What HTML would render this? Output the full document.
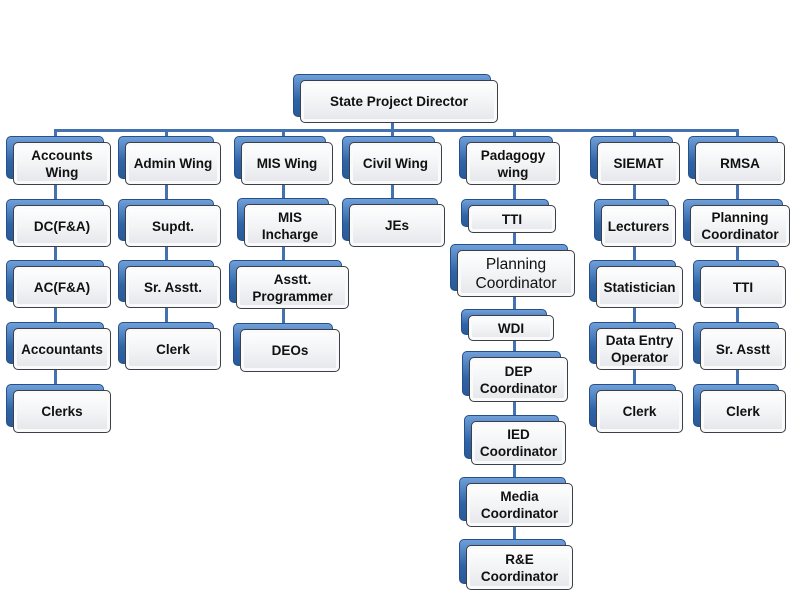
<!DOCTYPE html>
<html><head><meta charset="utf-8"><style>
body{margin:0;width:800px;height:601px;background:#fff;position:relative;overflow:hidden;font-family:"Liberation Sans",Arial,sans-serif}
.n{position:absolute}
.b{position:absolute;left:-7px;top:-6px;right:7px;bottom:6px;border-radius:5px;background:linear-gradient(#6f9fd8,#2f64a8 60%,#2a5a98);border:1px solid #25508a}
.f{position:absolute;left:0;top:0;right:0;bottom:0;border:1.5px solid #3a3f48;border-radius:5px;background:linear-gradient(#ffffff,#f3f4f6 50%,#e4e6ea);box-shadow:inset 0 0 0 3px #fafafa;display:flex;align-items:center;justify-content:center;text-align:center;font-weight:bold;font-size:13.5px;line-height:17px;color:#111}
.l{position:absolute;background:#4472b0}
</style></head><body>
<div class="l" style="left:54px;top:129px;width:684px;height:3px"></div>
<div class="l" style="left:391px;top:120px;width:3px;height:12px"></div>
<div class="l" style="left:54px;top:129px;width:3px;height:280px"></div>
<div class="l" style="left:165px;top:129px;width:3px;height:220px"></div>
<div class="l" style="left:282px;top:129px;width:3px;height:220px"></div>
<div class="l" style="left:391px;top:129px;width:3px;height:90px"></div>
<div class="l" style="left:513px;top:129px;width:3px;height:440px"></div>
<div class="l" style="left:633px;top:129px;width:3px;height:280px"></div>
<div class="l" style="left:736px;top:129px;width:3px;height:280px"></div>

<div class="n" style="left:300px;top:80px;width:198px;height:43px"><div class="b"></div><div class="f">State Project Director</div></div>

<div class="n" style="left:13px;top:142px;width:98px;height:43px"><div class="b"></div><div class="f">Accounts<br>Wing</div></div>
<div class="n" style="left:13px;top:205px;width:98px;height:42px"><div class="b"></div><div class="f">DC(F&amp;A)</div></div>
<div class="n" style="left:13px;top:266px;width:98px;height:42px"><div class="b"></div><div class="f">AC(F&amp;A)</div></div>
<div class="n" style="left:13px;top:328px;width:98px;height:42px"><div class="b"></div><div class="f">Accountants</div></div>
<div class="n" style="left:13px;top:390px;width:98px;height:43px"><div class="b"></div><div class="f">Clerks</div></div>

<div class="n" style="left:125px;top:142px;width:96px;height:43px"><div class="b"></div><div class="f">Admin Wing</div></div>
<div class="n" style="left:125px;top:205px;width:96px;height:42px"><div class="b"></div><div class="f">Supdt.</div></div>
<div class="n" style="left:125px;top:266px;width:96px;height:42px"><div class="b"></div><div class="f">Sr. Asstt.</div></div>
<div class="n" style="left:125px;top:328px;width:96px;height:42px"><div class="b"></div><div class="f">Clerk</div></div>

<div class="n" style="left:241px;top:142px;width:92px;height:43px"><div class="b"></div><div class="f">MIS Wing</div></div>
<div class="n" style="left:244px;top:204px;width:92px;height:43px"><div class="b"></div><div class="f">MIS<br>Incharge</div></div>
<div class="n" style="left:236px;top:266px;width:113px;height:43px"><div class="b"></div><div class="f">Asstt.<br>Programmer</div></div>
<div class="n" style="left:240px;top:329px;width:100px;height:43px"><div class="b"></div><div class="f">DEOs</div></div>

<div class="n" style="left:349px;top:142px;width:93px;height:43px"><div class="b"></div><div class="f">Civil Wing</div></div>
<div class="n" style="left:349px;top:204px;width:96px;height:43px"><div class="b"></div><div class="f">JEs</div></div>

<div class="n" style="left:466px;top:142px;width:94px;height:43px"><div class="b"></div><div class="f">Padagogy<br>wing</div></div>
<div class="n" style="left:468px;top:205px;width:88px;height:28px"><div class="b"></div><div class="f">TTI</div></div>
<div class="n" style="left:457px;top:250px;width:118px;height:47px"><div class="b"></div><div class="f" style="font-weight:normal;font-size:15.5px;line-height:19px">Planning<br>Coordinator</div></div>
<div class="n" style="left:468px;top:315px;width:86px;height:26px"><div class="b"></div><div class="f">WDI</div></div>
<div class="n" style="left:469px;top:357px;width:99px;height:45px"><div class="b"></div><div class="f">DEP<br>Coordinator</div></div>
<div class="n" style="left:471px;top:421px;width:95px;height:44px"><div class="b"></div><div class="f">IED<br>Coordinator</div></div>
<div class="n" style="left:466px;top:483px;width:107px;height:44px"><div class="b"></div><div class="f">Media<br>Coordinator</div></div>
<div class="n" style="left:466px;top:545px;width:107px;height:45px"><div class="b"></div><div class="f">R&amp;E<br>Coordinator</div></div>

<div class="n" style="left:597px;top:142px;width:83px;height:43px"><div class="b"></div><div class="f">SIEMAT</div></div>
<div class="n" style="left:601px;top:205px;width:75px;height:42px"><div class="b"></div><div class="f">Lecturers</div></div>
<div class="n" style="left:596px;top:266px;width:87px;height:42px"><div class="b"></div><div class="f">Statistician</div></div>
<div class="n" style="left:596px;top:328px;width:87px;height:42px"><div class="b"></div><div class="f">Data Entry<br>Operator</div></div>
<div class="n" style="left:596px;top:390px;width:87px;height:43px"><div class="b"></div><div class="f">Clerk</div></div>

<div class="n" style="left:695px;top:142px;width:90px;height:43px"><div class="b"></div><div class="f">RMSA</div></div>
<div class="n" style="left:690px;top:205px;width:100px;height:42px"><div class="b"></div><div class="f">Planning<br>Coordinator</div></div>
<div class="n" style="left:700px;top:266px;width:86px;height:42px"><div class="b"></div><div class="f">TTI</div></div>
<div class="n" style="left:700px;top:328px;width:86px;height:42px"><div class="b"></div><div class="f">Sr. Asstt</div></div>
<div class="n" style="left:700px;top:390px;width:86px;height:43px"><div class="b"></div><div class="f">Clerk</div></div>
</body></html>
